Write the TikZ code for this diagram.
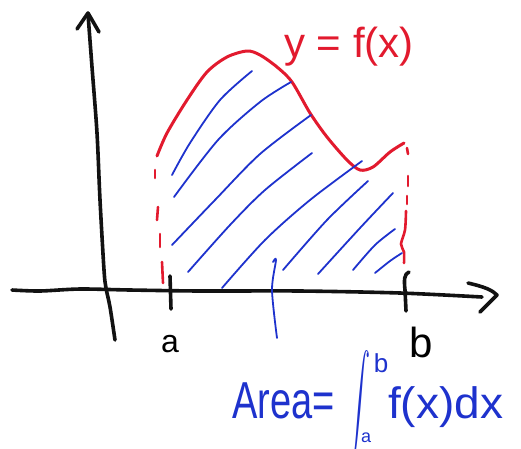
\documentclass[tikz,border=0pt]{standalone}
\usepackage{graphicx}
\usepackage{fontspec}
\setmainfont{Liberation Sans}
\definecolor{penred}{RGB}{226,26,46}
\definecolor{penblue}{RGB}{30,50,205}
\definecolor{penblack}{RGB}{18,18,18}
\begin{document}
\begin{tikzpicture}[x=1pt,y=-1pt,
  axisline/.style={draw=penblack,line width=3.6pt,line cap=round,line join=round},
  curveline/.style={draw=penred,line width=3pt,line cap=round,line join=round},
  dashmark/.style={draw=penred,line width=2.6pt,line cap=round},
  hatchline/.style={draw=penblue,line width=1.8pt,line cap=round,line join=round},
  lbl/.style={inner sep=0pt,anchor=base}]
\useasboundingbox (0,0) rectangle (521,448);

% axes
\draw[axisline] plot[smooth] coordinates {(12,290) (40,291) (80,289) (130,290) (200,291) (300,291) (400,293) (482,297)};
\draw[axisline] (468,283) .. controls (485,287) and (492,290) .. (497,295) -- (480,312);
\draw[axisline] plot[smooth] coordinates {(88,14) (92,67) (97,133) (100,200) (104,270) (106,288) (110,307) (115,340)};
\draw[axisline] (77,29) -- (88,13) -- (99,32);

% ticks
\draw[axisline] (170,276) -- (171,309);
\draw[axisline] (409,272) .. controls (404,274) and (404,280) .. (405,290) -- (406,311);

% labels a, b
\node[lbl,font=\fontsize{32}{32}\selectfont] (la) at (170,352) {a};
\node[lbl,font=\fontsize{42}{42}\selectfont] (lb) at (421,357) {b};

% red curve
\draw[curveline] plot[smooth] coordinates {(157,156) (167,133) (187,100) (207,72) (227,57) (247,51) (260,55) (277,67) (292,82) (310,113) (327,137) (347,160) (360,170) (373,167) (390,152) (404,143)};
\draw[dashmark] (155,170) -- (155,178);
\draw[dashmark] (158,207) -- (157,220);
\draw[dashmark] (160,234) -- (160,247);
\draw[dashmark] (162,262) -- (163,283);
\draw[dashmark] (407,148) -- (408,154);
\draw[dashmark] (408,176) -- (408,186);
\draw[dashmark] (407,196) -- (407,204);
\draw[dashmark] plot[smooth] coordinates {(406,211) (405,230) (401,244) (404,252) (404,263)};

% hatching
\draw[hatchline] plot[smooth] coordinates {(172,175) (190,143) (220,100) (252,71)};
\draw[hatchline] plot[smooth] coordinates {(174,197) (218,140) (260,102) (291,82)};
\draw[hatchline] plot[smooth] coordinates {(172,245) (215,200) (260,154) (311,115)};
\draw[hatchline] plot[smooth] coordinates {(188,272) (230,225) (265,190) (312,153)};
\draw[hatchline] plot[smooth] coordinates {(222,288) (265,240) (310,200) (362,161)};
\draw[hatchline] plot[smooth] coordinates {(283,270) (327,220) (368,181)};
\draw[hatchline] plot[smooth] coordinates {(318,274) (360,228) (393,193)};
\draw[hatchline] plot[smooth] coordinates {(353,270) (375,245) (395,229)};
\draw[hatchline] plot[smooth] coordinates {(375,273) (390,261) (402,253)};
\draw[hatchline] plot[smooth] coordinates {(273,262) (276,260) (272,290) (277,338)};

% function label
\node[lbl,anchor=base west,text=penred,font=\fontsize{42}{42}\selectfont] (fl) at (284,57) {y = f(x)};

% area formula
\node[lbl,anchor=base west,text=penblue,font=\fontsize{40}{40}\selectfont] (area) at (232,418) {\scalebox{0.95}[1.3]{Area=}};
\node[inner sep=0pt,text=penblue] (int) at (359,406) {\resizebox{22pt}{68pt}{$\displaystyle\int$}};
\node[lbl,text=penblue,font=\fontsize{26}{26}\selectfont] (ub) at (381,372) {b};
\node[lbl,text=penblue,font=\fontsize{18}{18}\selectfont] (lo) at (366,442) {a};
\node[lbl,anchor=base west,text=penblue,font=\fontsize{40}{40}\selectfont] (fdx) at (388,418) {\scalebox{1.15}[1.1]{f(x)dx}};
\end{tikzpicture}
\end{document}
